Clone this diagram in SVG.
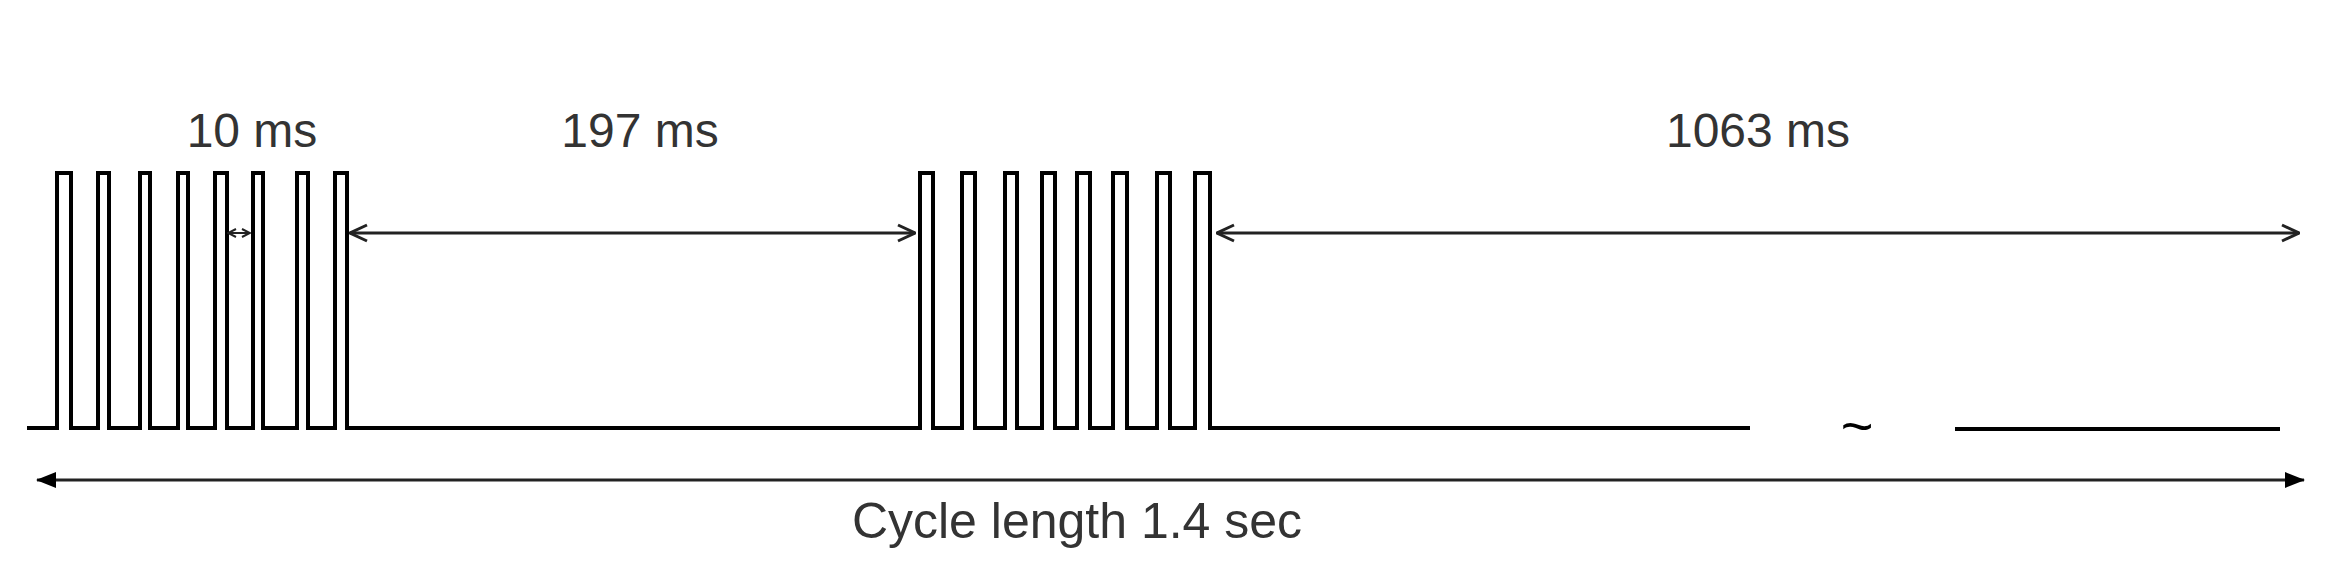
<svg xmlns="http://www.w3.org/2000/svg" width="2326" height="584" viewBox="0 0 2326 584">
<style>
.sig{fill:none;stroke:#000;stroke-width:4;stroke-linejoin:miter}
.dim{fill:none;stroke:#222;stroke-width:3}
.lbl{font-family:"Liberation Sans",Arial,sans-serif;font-size:48px;fill:#333;text-anchor:middle}
</style>
<defs>
<marker id="open" viewBox="0 0 20 20" refX="19" refY="10" markerWidth="20" markerHeight="20" markerUnits="userSpaceOnUse" orient="auto-start-reverse">
<path d="M2,2 L19,10 L2,18" fill="none" stroke="#222" stroke-width="3"/>
</marker>
<marker id="fill" viewBox="0 0 20 20" refX="19" refY="10" markerWidth="20" markerHeight="20" markerUnits="userSpaceOnUse" orient="auto-start-reverse">
<path d="M0,2 L20,10 L0,18 Z" fill="#000"/>
</marker>
<marker id="tiny" viewBox="0 0 10 10" refX="9" refY="5" markerWidth="10" markerHeight="10" markerUnits="userSpaceOnUse" orient="auto-start-reverse">
<path d="M1,1 L9,5 L1,9" fill="none" stroke="#222" stroke-width="2"/>
</marker>
</defs>
<g id="signal">
<path class="sig" d="M27,428 H57 V173 H71 V428 H98 V173 H109 V428 H140 V173 H150 V428 H178 V173 H188 V428 H215 V173 H227 V428 H253 V173 H263 V428 H297 V173 H308 V428 H335 V173 H347 V428 H920 V173 H933 V428 H962 V173 H975 V428 H1005 V173 H1017 V428 H1042 V173 H1055 V428 H1077 V173 H1090 V428 H1113 V173 H1127 V428 H1157 V173 H1170 V428 H1195 V173 H1210 V428 H1750"/>
<path class="sig" d="M1955,429 H2280"/>
<text x="1857" y="445" class="lbl" style="font-size:56px;fill:#000">~</text>
</g>
<g id="connectors">
<line class="dim" x1="350" y1="233" x2="915" y2="233" marker-start="url(#open)" marker-end="url(#open)"/>
<line class="dim" x1="1217" y1="233" x2="2299" y2="233" marker-start="url(#open)" marker-end="url(#open)"/>
<line class="dim" x1="37" y1="480" x2="2304" y2="480" marker-start="url(#fill)" marker-end="url(#fill)"/>
<line x1="228" y1="233" x2="250" y2="233" stroke="#222" stroke-width="2" marker-start="url(#tiny)" marker-end="url(#tiny)"/>
</g>
<g id="labels">
<text x="252" y="147" class="lbl">10 ms</text>
<text x="640" y="147" class="lbl">197 ms</text>
<text x="1758" y="147" class="lbl">1063 ms</text>
<text x="1077" y="538" class="lbl" style="font-size:50px">Cycle length 1.4 sec</text>
</g>
</svg>
